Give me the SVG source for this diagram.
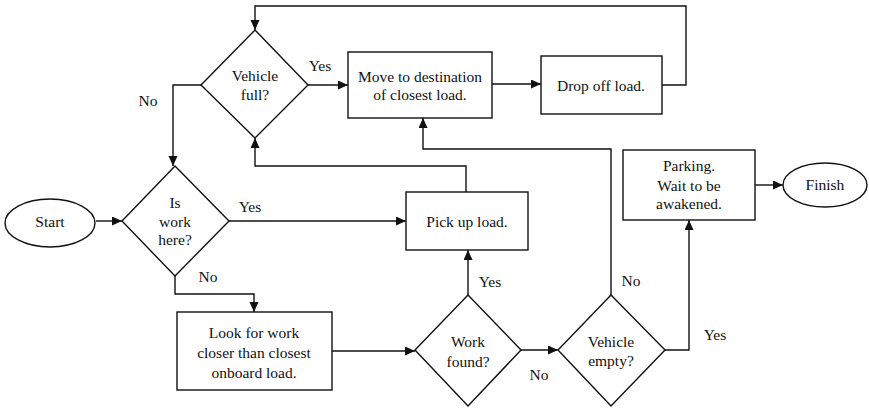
<svg xmlns="http://www.w3.org/2000/svg" width="869" height="408" viewBox="0 0 869 408">
  <style>
    .shape { fill: #ffffff; stroke: #111111; stroke-width: 1.4; }
    .edge { fill: none; stroke: #111111; stroke-width: 1.4; marker-end: url(#arrow); }
    .line { fill: none; stroke: #111111; stroke-width: 1.4; }
    text { font-family: "Liberation Serif", "Times New Roman", serif; font-size: 15.5px; fill: #111111; text-anchor: middle; }
  </style>
  <defs>
    <marker id="arrow" markerUnits="userSpaceOnUse" markerWidth="11" markerHeight="10" refX="10" refY="4.5" orient="auto">
      <path d="M0,0 L10,4.5 L0,9 Z" fill="#111111"/>
    </marker>
  </defs>
  <rect width="869" height="408" fill="#ffffff"/>

  <!-- connectors -->
  <g id="connectors">
    <path class="edge" d="M96,221 H122"/>
    <path class="edge" d="M229,221 H406"/>
    <path class="edge" d="M175,276 V294 H254 V312"/>
    <path class="edge" d="M332,351 H415"/>
    <path class="edge" d="M468,295 V250"/>
    <path class="edge" d="M521,350 H558"/>
    <path class="edge" d="M611,295 V149 H423 V118"/>
    <path class="edge" d="M665,350 H689 V220"/>
    <path class="edge" d="M755,185 H783"/>
    <path class="edge" d="M466,192 V166 H255 V138"/>
    <path class="edge" d="M308,85 H348"/>
    <path class="edge" d="M201,85 H173 V166"/>
    <path class="edge" d="M492,84 H541"/>
    <path class="edge" d="M662,85 H686 V6 H255 V30"/>
    <text x="320" y="71">Yes</text>
    <text x="148" y="106">No</text>
    <text x="250" y="212">Yes</text>
    <text x="208" y="282">No</text>
    <text x="490" y="287">Yes</text>
    <text x="539" y="380">No</text>
    <text x="631" y="286">No</text>
    <text x="715" y="340">Yes</text>
  </g>

  <g id="start">
    <ellipse class="shape" cx="50" cy="223" rx="45" ry="24"/>
    <text x="50" y="227">Start</text>
  </g>

  <g id="is-work-here">
    <polygon class="shape" points="175,166 229,221 175,276 122,221"/>
    <text x="175" y="208">Is</text>
    <text x="175" y="227">work</text>
    <text x="175" y="245">here?</text>
  </g>

  <g id="vehicle-full">
    <polygon class="shape" points="255,30 308,85 255,138 201,85"/>
    <text x="255" y="81">Vehicle</text>
    <text x="255" y="100">full?</text>
  </g>

  <g id="move-to-destination">
    <rect class="shape" x="348" y="52" width="144" height="66"/>
    <text x="420" y="82">Move to destination</text>
    <text x="420" y="100">of closest load.</text>
  </g>

  <g id="drop-off">
    <rect class="shape" x="541" y="56" width="121" height="58"/>
    <text x="601" y="91">Drop off load.</text>
  </g>

  <g id="pick-up">
    <rect class="shape" x="406" y="192" width="122" height="58"/>
    <text x="467" y="227">Pick up load.</text>
  </g>

  <g id="look-for-work">
    <rect class="shape" x="177" y="312" width="155" height="78"/>
    <text x="254" y="338">Look for work</text>
    <text x="254" y="358">closer than closest</text>
    <text x="254" y="378">onboard load.</text>
  </g>

  <g id="work-found">
    <polygon class="shape" points="468,295 521,350 468,406 415,350"/>
    <text x="468" y="347">Work</text>
    <text x="468" y="367">found?</text>
  </g>

  <g id="vehicle-empty">
    <polygon class="shape" points="611,295 665,350 611,406 558,350"/>
    <text x="611" y="347">Vehicle</text>
    <text x="611" y="366">empty?</text>
  </g>

  <g id="parking">
    <rect class="shape" x="623" y="150" width="132" height="70"/>
    <text x="689" y="171">Parking.</text>
    <text x="689" y="191">Wait to be</text>
    <text x="689" y="209">awakened.</text>
  </g>

  <g id="finish">
    <ellipse class="shape" cx="825" cy="185" rx="42" ry="22"/>
    <text x="825" y="190">Finish</text>
  </g>
</svg>
